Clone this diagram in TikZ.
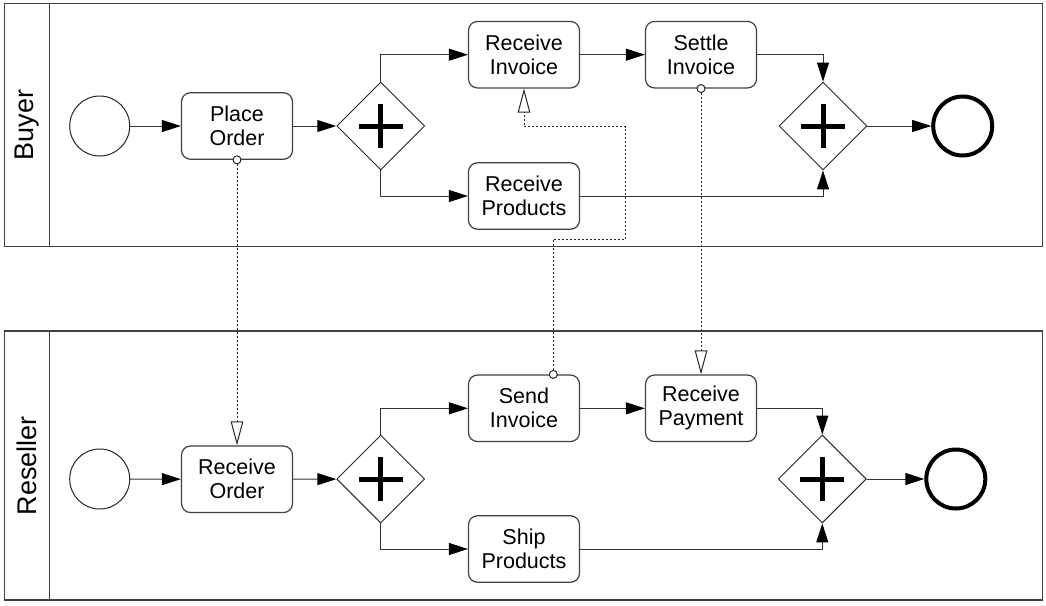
\documentclass[tikz,border=0pt]{standalone}
\usepackage{fontspec}
\setmainfont{Liberation Sans}
\usetikzlibrary{positioning, arrows.meta, shapes.geometric, calc}

\begin{document}
\begin{tikzpicture}[x=1pt, y=-1pt,
    task/.style={draw=black!75, line width=1.2pt, rounded corners=9pt, minimum width=111pt, minimum height=66.5pt, inner sep=0pt, align=center, font=\fontsize{21.5}{24}\selectfont},
    startev/.style={circle, draw=black!85, line width=1pt, minimum size=60pt, inner sep=0pt},
    endev/.style={circle, draw=black, line width=4pt, minimum size=59pt, inner sep=0pt},
    andgw/.style={diamond, draw=black!85, line width=0.9pt, minimum width=88pt, minimum height=88pt, inner sep=0pt,
        path picture={\draw[black, line width=5pt]
            ([xshift=-22pt]path picture bounding box.center) -- ([xshift=22pt]path picture bounding box.center)
            ([yshift=-22pt]path picture bounding box.center) -- ([yshift=22pt]path picture bounding box.center);}},
    seqflow/.style={draw=black!80, line width=1pt, -{Triangle[length=19pt, width=12pt, black]}},
    msgflow/.style={draw=black!85, line width=1pt, dash pattern=on 2pt off 2pt,
        {Circle[length=9pt, width=9pt, fill=white, line width=1pt]}-{Triangle[length=24pt, width=12.5pt, fill=white, line width=1pt]}},
    pool/.style={draw=black!75, line width=1.3pt},
    lanelabel/.style={rotate=90, font=\fontsize{27}{30}\selectfont}]

    \useasboundingbox (0,0) rectangle (1046,605);

    % pools
    \draw[pool] (4.7,3.3) rectangle (1042.5,246.7);
    \draw[pool] (49.3,3.3) -- (49.3,246.7);
    \draw[pool] (4.7,331) rectangle (1042.5,600);
    \draw[pool] (49.3,331) -- (49.3,600);
    \node[lanelabel] (buyer) at (27,125) {Buyer};
    \node[lanelabel] (reseller) at (27,465.5) {Reseller};

    % buyer
    \node[startev] (bstart) at (99.7,126) {};
    \node[task] (placeorder) at (237,126) {Place\\Order};
    \node[andgw] (bsplit) at (380.7,126) {};
    \node[task] (recvinvoice) at (524,54.7) {Receive\\Invoice};
    \node[task] (settleinvoice) at (701,54.7) {Settle\\Invoice};
    \node[task] (recvproducts) at (524,196) {Receive\\Products};
    \node[andgw] (bjoin) at (823,126) {};
    \node[endev] (bend) at (962.7,126) {};

    \draw[seqflow] (bstart) -- (placeorder);
    \draw[seqflow] (placeorder) -- (bsplit);
    \draw[seqflow] (bsplit.north) |- (recvinvoice.west);
    \draw[seqflow] (bsplit.south) |- (recvproducts.west);
    \draw[seqflow] (recvinvoice) -- (settleinvoice);
    \draw[seqflow] (settleinvoice.east) -| (bjoin.north);
    \draw[seqflow] (recvproducts.east) -| (bjoin.south);
    \draw[seqflow] (bjoin) -- (bend);

    % reseller
    \node[startev] (rstart) at (99.7,479) {};
    \node[task] (recvorder) at (237,479.3) {Receive\\Order};
    \node[andgw] (rsplit) at (380.7,479) {};
    \node[task] (sendinvoice) at (524,408.3) {Send\\Invoice};
    \node[task] (recvpayment) at (701,408.3) {Receive\\Payment};
    \node[task] (shipproducts) at (524,549) {Ship\\Products};
    \node[andgw] (rjoin) at (822.3,479) {};
    \node[endev] (rend) at (955.8,479) {};

    \draw[seqflow] (rstart) -- (recvorder);
    \draw[seqflow] (recvorder) -- (rsplit);
    \draw[seqflow] (rsplit.north) |- (sendinvoice.west);
    \draw[seqflow] (rsplit.south) |- (shipproducts.west);
    \draw[seqflow] (sendinvoice) -- (recvpayment);
    \draw[seqflow] (recvpayment.east) -| (rjoin.north);
    \draw[seqflow] (shipproducts.east) -| (rjoin.south);
    \draw[seqflow] (rjoin) -- (rend);

    % messages
    \coordinate (bendA) at (625.7,239.3);
    \coordinate (bendB) at (625.7,126.7);
    \draw[msgflow] ([yshift=4.5pt]placeorder.south) -- (recvorder.north);
    \draw[msgflow] ([xshift=29.3pt, yshift=-4.5pt]sendinvoice.north) |- (bendA) -- (bendB) -| (recvinvoice.south);
    \draw[msgflow] ([yshift=4.5pt]settleinvoice.south) -- (recvpayment.north);
\end{tikzpicture}
\end{document}
